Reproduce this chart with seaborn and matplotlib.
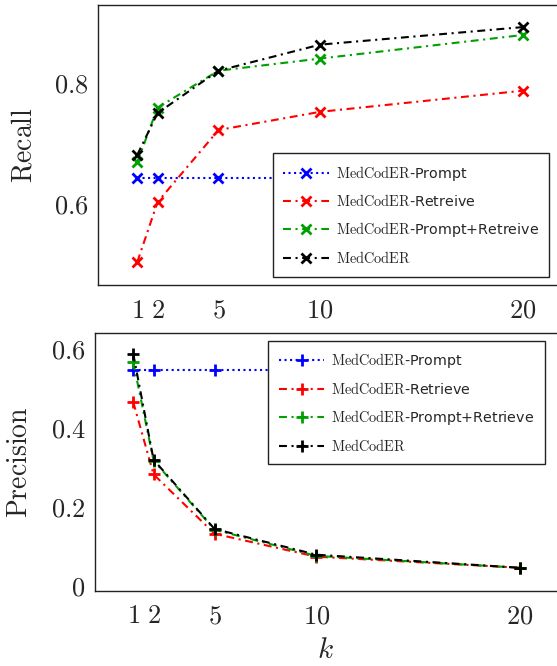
import pandas as pd
import numpy as np
from matplotlib import pyplot as plt
from matplotlib import ticker
import seaborn as sns

sns.set_style("white")
plt.rcParams["mathtext.fontset"] = "cm"
plt.rcParams["font.family"] = ["DejaVu Sans"]

k = [1, 2, 5, 10, 20]

recall_prompt = [0.643, 0.643, 0.643, 0.643, 0.643]
recall_retrieve = [0.504, 0.603, 0.722, 0.752, 0.787]
recall_both = [0.669, 0.759, 0.820, 0.840, 0.879]
recall_full = [0.681, 0.750, 0.820, 0.863, 0.892]

prec_prompt = [0.544, 0.544, 0.544, 0.544, 0.544]
prec_retrieve = [0.464, 0.281, 0.131, 0.073, 0.045]
prec_both = [0.565, 0.316, 0.141, 0.075, 0.045]
prec_full = [0.586, 0.318, 0.143, 0.078, 0.045]

recall_labels = [r"$\mathrm{MedCodER}$-Prompt", r"$\mathrm{MedCodER}$-Retreive",
                 r"$\mathrm{MedCodER}$-Prompt+Retreive", r"$\mathrm{MedCodER}$"]
prec_labels = [r"$\mathrm{MedCodER}$-Prompt", r"$\mathrm{MedCodER}$-Retrieve",
               r"$\mathrm{MedCodER}$-Prompt+Retrieve", r"$\mathrm{MedCodER}$"]

colors = ["#0000ff", "#ff0000", "#00a000", "#000000"]
dashdot = (0, (3.8, 2.2, 1, 2.2))
styles = [":", dashdot, dashdot, dashdot]

mathfmt = ticker.FuncFormatter(lambda v, pos: f"${v:g}$")


def panel(ax, series, labels, marker, msize, ylabel):
    for vals, lab, c, ls in zip(series, labels, colors, styles):
        sns.lineplot(x=k, y=vals, ax=ax, color=c, linestyle=ls, marker=marker,
                     markersize=msize, markeredgewidth=2, markeredgecolor=c,
                     linewidth=1.5, label=lab)
    ax.set_xticks(k)
    ax.xaxis.set_major_formatter(mathfmt)
    ax.yaxis.set_major_formatter(mathfmt)
    ax.tick_params(length=0, labelsize=19)
    ax.tick_params(axis="x", pad=9)
    ax.tick_params(axis="y", pad=7)
    ax.set_ylabel(r"$\mathrm{" + ylabel + "}$", fontsize=20)
    ax.yaxis.label.set_verticalalignment("center")
    for s in ax.spines.values():
        s.set_color("#222222")
        s.set_linewidth(1.0)


def add_legend(ax, loc, anchor):
    leg = ax.legend(loc=loc, bbox_to_anchor=anchor, borderaxespad=0,
                    fontsize=10.3, frameon=True, fancybox=False, framealpha=1,
                    edgecolor="#222222", numpoints=1, handlelength=3.2,
                    handletextpad=0.45, borderpad=0.75, labelspacing=0.75)
    leg.get_frame().set_linewidth(1.0)


fig = plt.figure(figsize=(5.57, 6.66), dpi=100)
ax1 = fig.add_axes([98.3 / 557, 1 - 285 / 666, 485.6 / 557, 280.3 / 666])
ax2 = fig.add_axes([95.2 / 557, 1 - 590.7 / 666, 485.3 / 557, 258 / 666])

panel(ax1, [recall_prompt, recall_retrieve, recall_both, recall_full],
      recall_labels, "x", 6.5, "Recall")
ax1.set_xlim(-0.92, 23)
ax1.set_ylim(0.466, 0.929)
ax1.set_yticks([0.6, 0.8])
ax1.yaxis.set_label_coords(-0.155, 0.5)
add_legend(ax1, "lower left", (0.359, 0.030))

panel(ax2, [prec_prompt, prec_retrieve, prec_both, prec_full],
      prec_labels, "+", 8, "Precision")
ax2.set_xlim(-0.87, 23)
ax2.set_ylim(-0.013, 0.639)
ax2.set_yticks([0, 0.2, 0.4, 0.6])
ax2.yaxis.set_label_coords(-0.158, 0.5)
ax2.set_xlabel(r"$k$", fontsize=21)
ax2.xaxis.label.set_verticalalignment("center")
ax2.xaxis.set_label_coords(0.475, -0.23)
add_legend(ax2, "upper left", (0.356, 0.969))

fig.savefig("out.png", dpi=100)
